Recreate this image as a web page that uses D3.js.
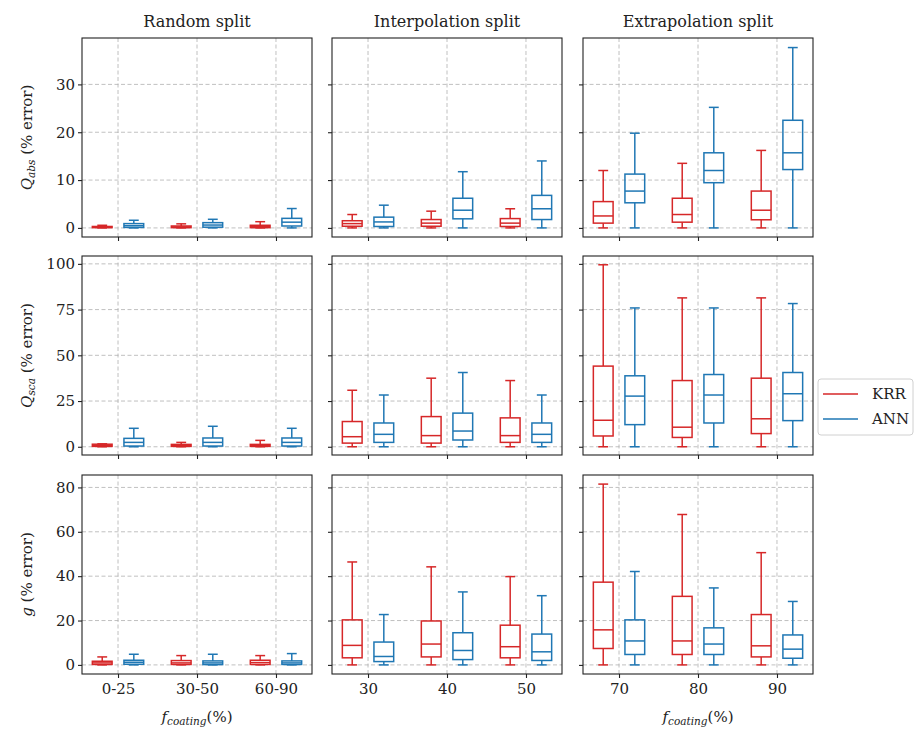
<!DOCTYPE html>
<meta charset="utf-8">
<style>
  body { margin: 0; background: #fff; }
  text { font-family: "DejaVu Serif", serif; fill: #222; }
  .grid line { stroke: #b0b0b0; stroke-width: 0.8px; stroke-dasharray: 4 2.5; }
  .frame { fill: none; stroke: #222; stroke-width: 1.1px; }
</style>
<body>
<script src="https://cdn.jsdelivr.net/npm/d3@7"></script>
<script>
// split names (column titles) and group labels on the x axis
var splits = ["Random split", "Interpolation split", "Extrapolation split"];
var groupLabels = [["0-25", "30-50", "60-90"], ["30", "40", "50"], ["70", "80", "90"]];
var models = ["KRR", "ANN"];

// each box: [whisker low, q1, median, q3, whisker high], 9 per metric (3 splits x 3 groups)
var qabsKRR = [
  [0, 0.05, 0.15, 0.3, 0.55], [0, 0.05, 0.2, 0.4, 0.85], [0, 0.05, 0.3, 0.55, 1.3],
  [0, 0.35, 0.9, 1.5, 2.8], [0, 0.35, 1.0, 1.75, 3.5], [0, 0.3, 1.0, 1.95, 4.0],
  [0, 1.0, 2.5, 5.5, 12.0], [0, 1.2, 2.8, 6.2, 13.5], [0, 1.7, 3.7, 7.7, 16.2]
];
var qabsANN = [
  [0, 0.1, 0.45, 0.9, 1.6], [0, 0.15, 0.6, 1.1, 1.8], [0, 0.4, 1.2, 2.0, 4.05],
  [0, 0.3, 1.25, 2.25, 4.75], [0, 1.9, 3.7, 6.2, 11.75], [0, 1.75, 4.0, 6.8, 14.0],
  [0, 5.25, 7.7, 11.25, 19.8], [0, 9.45, 12.0, 15.7, 25.2], [0, 12.2, 15.7, 22.5, 37.7]
];
var qscaKRR = [
  [0, 0.2, 0.7, 1.4, 1.6], [0, 0.2, 0.6, 1.3, 2.4], [0, 0.2, 0.6, 1.3, 3.5],
  [0, 2.0, 5.5, 13.8, 30.9], [0, 2.0, 6.1, 16.5, 37.5], [0, 2.4, 6.1, 15.8, 36.2],
  [0, 5.9, 14.5, 44.1, 99.5], [0, 5.1, 10.7, 36.2, 81.4], [0, 7.2, 15.3, 37.5, 81.4]
];
var qscaANN = [
  [0, 0.4, 2.4, 4.6, 10.1], [0, 0.4, 2.4, 4.8, 11.2], [0, 0.4, 2.4, 4.8, 10.1],
  [0, 2.4, 6.8, 13.0, 28.3], [0, 3.7, 8.6, 18.4, 40.6], [0, 2.4, 6.8, 13.0, 28.3],
  [0, 12.1, 27.7, 38.8, 75.9], [0, 13.0, 28.3, 39.5, 75.9], [0, 14.3, 29.0, 40.6, 78.3]
];
var gKRR = [
  [0, 0.2, 0.9, 1.65, 3.6], [0, 0.2, 0.9, 1.95, 4.2], [0, 0.2, 1.05, 2.1, 4.2],
  [0, 3.2, 8.8, 20.3, 46.4], [0, 3.6, 9.4, 19.8, 44.2], [0, 3.2, 8.2, 17.9, 39.8],
  [0, 7.4, 15.8, 37.3, 81.5], [0, 4.7, 10.8, 30.9, 67.8], [0, 3.6, 8.6, 22.7, 50.6]
];
var gANN = [
  [0, 0.3, 1.2, 2.1, 4.8], [0, 0.15, 0.9, 1.8, 4.8], [0, 0.2, 0.9, 1.8, 5.1],
  [0, 1.5, 3.8, 10.3, 22.7], [0, 2.4, 6.5, 14.5, 32.9], [0, 2.0, 5.9, 13.9, 31.2],
  [0, 4.7, 10.8, 20.3, 42.1], [0, 4.7, 9.4, 16.7, 34.7], [0, 3.0, 7.1, 13.5, 28.6]
];

// y axis per row
var yTicks = [[0, 10, 20, 30], [0, 25, 50, 75, 100], [0, 20, 40, 60, 80]];
var yLimits = [[-1.9, 39.7], [-4.5, 104.3], [-4.1, 85.6]];

var rows = [
  {sym: "Q", sub: "abs", krr: qabsKRR, ann: qabsANN},
  {sym: "Q", sub: "sca", krr: qscaKRR, ann: qscaANN},
  {sym: "g", sub: "",    krr: gKRR,    ann: gANN}
];

var colors = {KRR: "#d62728", ANN: "#1f77b4"};

var W = 915, H = 730;
var panelLeft = [82, 332, 583], panelW = 230;
var rowTop = [38, 256, 475], panelH = 199;

var svg = d3.select("body").append("svg")
  .attr("width", W).attr("height", H);

rows.forEach(function(row, r) {
  var y = d3.scaleLinear().domain(yLimits[r]).range([panelH, 0]);

  splits.forEach(function(split, c) {
    var x = d3.scaleLinear().domain([-0.456, 2.456]).range([0, panelW]);
    var g = svg.append("g")
      .attr("transform", "translate(" + panelLeft[c] + "," + rowTop[r] + ")");

    // grid
    var grid = g.append("g").attr("class", "grid");
    grid.selectAll(".gy").data(yTicks[r]).enter().append("line")
      .attr("x1", 0).attr("x2", panelW)
      .attr("y1", function(d){ return y(d); }).attr("y2", function(d){ return y(d); });
    grid.selectAll(".gx").data([0, 1, 2]).enter().append("line")
      .attr("y1", 0).attr("y2", panelH)
      .attr("x1", function(d){ return x(d); }).attr("x2", function(d){ return x(d); });

    // axes
    var yAxis = d3.axisLeft(y).tickValues(yTicks[r]).tickSize(4).tickPadding(3);
    if (c > 0) yAxis.tickFormat("");
    var ya = g.append("g").call(yAxis);
    var xAxis = d3.axisBottom(x).tickValues([0, 1, 2]).tickSize(4).tickPadding(5)
      .tickFormat(function(d){ return r == 2 ? groupLabels[c][d] : ""; });
    var xa = g.append("g").attr("transform", "translate(0," + panelH + ")").call(xAxis);
    [ya, xa].forEach(function(a) {
      a.select(".domain").remove();
      a.selectAll("line").attr("stroke", "#222").attr("stroke-width", 1.1);
      a.selectAll("text").style("font-size", "15px").style("font-family", "DejaVu Serif").attr("fill", "#222");
    });

    // boxes
    var boxW = x(0.25) - x(0);
    models.forEach(function(m, mi) {
      var src = m == "KRR" ? row.krr : row.ann;
      var data = src.slice(c * 3, c * 3 + 3);
      var bg = g.selectAll(".box-" + m).data(data).enter().append("g")
        .attr("transform", function(d, i){ return "translate(" + x(i + (mi == 0 ? -0.2 : 0.2)) + ",0)"; })
        .attr("stroke", colors[m]).attr("stroke-width", 1.5).attr("fill", "none");
      bg.append("line").attr("x1", 0).attr("x2", 0)
        .attr("y1", function(d){ return y(d[0]); }).attr("y2", function(d){ return y(d[1]); });
      bg.append("line").attr("x1", 0).attr("x2", 0)
        .attr("y1", function(d){ return y(d[3]); }).attr("y2", function(d){ return y(d[4]); });
      bg.append("line").attr("x1", -boxW / 4).attr("x2", boxW / 4)
        .attr("y1", function(d){ return y(d[0]); }).attr("y2", function(d){ return y(d[0]); });
      bg.append("line").attr("x1", -boxW / 4).attr("x2", boxW / 4)
        .attr("y1", function(d){ return y(d[4]); }).attr("y2", function(d){ return y(d[4]); });
      bg.append("rect").attr("x", -boxW / 2).attr("width", boxW)
        .attr("y", function(d){ return y(d[3]); })
        .attr("height", function(d){ return Math.max(0.5, y(d[1]) - y(d[3])); });
      bg.append("line").attr("x1", -boxW / 2).attr("x2", boxW / 2)
        .attr("y1", function(d){ return y(d[2]); }).attr("y2", function(d){ return y(d[2]); });
    });

    g.append("rect").attr("class", "frame").attr("width", panelW).attr("height", panelH);

    if (r == 0) {
      g.append("text").attr("x", panelW / 2).attr("y", -11)
        .attr("text-anchor", "middle").style("font-size", "16px").text(split);
    }
    if (r == 2 && c != 1) {
      var xl = g.append("text").attr("x", panelW / 2).attr("y", panelH + 48)
        .attr("text-anchor", "middle").style("font-size", "15px");
      xl.append("tspan").style("font-style", "italic").text("f");
      xl.append("tspan").style("font-style", "italic").style("font-size", "10.5px")
        .attr("dy", 3).text("coating");
      xl.append("tspan").attr("dy", -3).text("(%)");
    }
    if (c == 0) {
      var yl = g.append("text")
        .attr("transform", "translate(-50," + (panelH / 2) + ") rotate(-90)")
        .attr("text-anchor", "middle").style("font-size", "15px");
      yl.append("tspan").style("font-style", "italic").text(row.sym);
      if (row.sub) {
        yl.append("tspan").style("font-style", "italic").style("font-size", "10.5px")
          .attr("dy", 3).text(row.sub);
        yl.append("tspan").attr("dy", -3).text(" (% error)");
      } else {
        yl.append("tspan").text(" (% error)");
      }
    }
  });
});

// legend
var lg = svg.append("g").attr("transform", "translate(818,379)");
lg.append("rect").attr("width", 95).attr("height", 56).attr("rx", 3)
  .attr("fill", "#fff").attr("stroke", "#d0d0d0").attr("stroke-width", 1);
models.forEach(function(m, i) {
  var ly = 15 + i * 25;
  lg.append("line").attr("x1", 5).attr("x2", 40).attr("y1", ly).attr("y2", ly)
    .attr("stroke", colors[m]).attr("stroke-width", 1.5);
  lg.append("text").attr("x", 54).attr("y", ly + 5).style("font-size", "15px").text(m);
});
</script>
</body>
